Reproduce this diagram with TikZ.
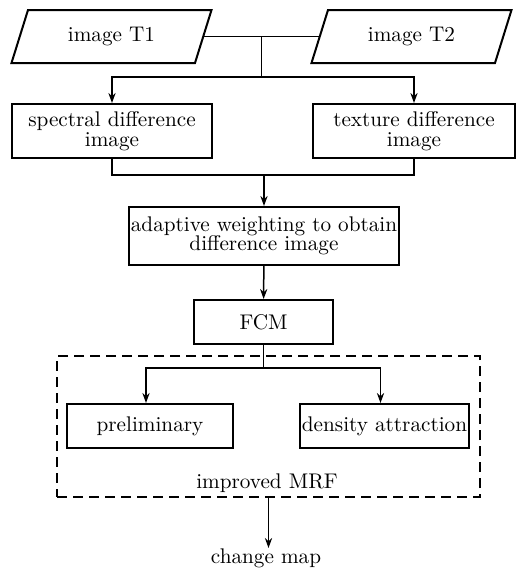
\documentclass[tikz,border=0pt]{standalone}
\usepackage{fontspec}
\usetikzlibrary{arrows.meta,shapes.geometric,calc}

\begin{document}
\begin{tikzpicture}[x=0.5pt,y=-0.5pt,font=\fontsize{10.6}{9.8}\selectfont,
  box/.style={draw,line width=1pt,inner sep=1pt,align=center},
  para/.style={box,trapezium,trapezium left angle=54,trapezium right angle=126,
    trapezium stretches body,minimum height=26.5pt,minimum width=100pt},
  ln/.style={line width=0.75pt},
  arr/.style={ln,-{Stealth[length=5pt,width=3.6pt]}}]
\useasboundingbox (0,0) rectangle (522,568);
% Input images
\node[para] (t1) at (111.5,36.5) {image T1};
\node[para] (t2) at (411.5,36.5) {image T2};
% Difference images
\node[box,minimum width=100pt,minimum height=27pt] (spec) at (112,131) {spectral difference\\image};
\node[box,minimum width=101pt,minimum height=27pt] (tex) at (414,131) {texture difference\\image};
\node[box,minimum width=133pt,minimum height=29pt] (adapt) at (264,236) {adaptive weighting to obtain\\difference image};
\node[box,minimum width=69.5pt,minimum height=22pt] (fcm) at (263.5,322) {FCM};
% Improved MRF
\node[draw,dashed,dash pattern=on 5pt off 3pt,line width=1pt,minimum width=211.5pt,minimum height=70.5pt] (mrf) at (268.5,426.5) {};
\node[box,minimum width=83pt,minimum height=22pt] (pre) at (150,426) {preliminary};
\node[box,minimum width=83.5pt,minimum height=22pt] (den) at (384.5,426) {density attraction};
\node (mrflbl) at (267,483) {improved MRF};
\node[anchor=north,inner sep=0pt] (cmap) at (266,548) {change map};

\coordinate (top) at ($(t1.east)!0.5!(t2.west)$);
\coordinate (split) at (top |- 0,77);
\coordinate (merge) at (adapt.north |- 0,175);
\coordinate (fork) at (fcm.south |- 0,368);
\draw[ln] (t1.east) -- (t2.west);
\draw[ln] (top) -- (split);
\draw[arr] (split) -| (spec.north);
\draw[arr] (split) -| (tex.north);
\draw[ln] (spec.south) |- (merge) -| (tex.south);
\draw[arr] (merge) -- (adapt.north);
\draw[arr] (adapt) -- (fcm);
\draw[ln] (fcm.south) -- (fork);
\draw[arr] (fork) -| ([xshift=-2pt]pre.north);
\draw[arr] (fork) -| ([xshift=-2pt]den.north);
\draw[arr] (mrf.south) -- (mrf.south |- cmap.north);
\end{tikzpicture}
\end{document}
